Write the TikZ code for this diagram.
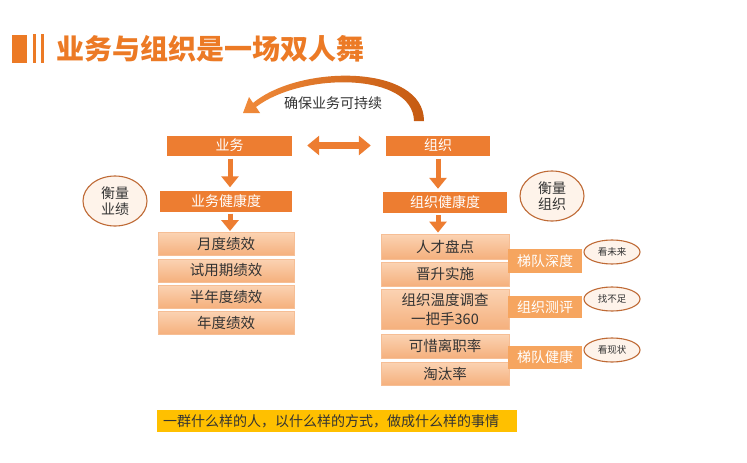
\documentclass[tikz,border=0pt]{standalone}
\usepackage{fontspec}
\setmainfont{Noto Sans CJK SC}
\usetikzlibrary{arrows.meta,shapes.geometric}
\definecolor{orangeD}{HTML}{ED7D31}
\definecolor{titleC}{HTML}{EC7A25}
\definecolor{arcL}{HTML}{F08A3A}
\definecolor{arcR}{HTML}{C55A11}
\definecolor{listTop}{HTML}{FBD3B3}
\definecolor{listBot}{HTML}{F5B07D}
\definecolor{listLine}{HTML}{F6BE95}
\definecolor{sideC}{HTML}{F6A55F}
\definecolor{ellFill}{HTML}{FEF3EA}
\definecolor{ellLine}{HTML}{BF6A35}
\definecolor{barC}{HTML}{FFC000}
\definecolor{txt}{HTML}{333333}
\tikzset{
  darkbox/.style={fill=orangeD, text=white, inner sep=0pt, font=\fontsize{14}{16}\selectfont},
  listbox/.style={top color=listTop, bottom color=listBot, draw=listLine, line width=0.8pt, text=txt, inner sep=0pt, font=\fontsize{14.5}{17}\selectfont},
  sidebox/.style={fill=sideC, text=white, inner sep=0pt, minimum width=74pt, font=\fontsize{14}{16}\selectfont},
  bigell/.style={ellipse, fill=ellFill, draw=ellLine, line width=1.1pt, inner sep=0pt, minimum width=64pt, minimum height=50pt, align=center, text=txt, font=\fontsize{14}{16}\selectfont},
  smallell/.style={ellipse, fill=ellFill, draw=ellLine, line width=1.1pt, inner sep=0pt, minimum width=56pt, minimum height=24pt, text=txt, font=\fontsize{9.5}{11}\selectfont},
  blockarr/.style={draw=orangeD, line width=5pt, -{Triangle[width=17pt,length=11pt]}},
  dblarr/.style={draw=orangeD, line width=7pt, {Triangle[width=19pt,length=12pt]}-{Triangle[width=19pt,length=12pt]}}
}
\begin{document}
\begin{tikzpicture}[x=1pt,y=-1pt]
\useasboundingbox (0,0) rectangle (747,463);
\fill[white] (0,0) rectangle (747,463);
% title
\fill[titleC] (12,35) rectangle (27,63);
\fill[titleC] (33,34) rectangle (35.5,63);
\fill[titleC] (41,34) rectangle (43.5,63);
\node[anchor=west, text=titleC, font=\fontsize{28}{31}\selectfont\bfseries, inner sep=0pt] (title) at (56,49) {业务与组织是一场双人舞};
% top row
\node[darkbox, minimum width=125pt, minimum height=20pt] (biz) at (229.5,145.5) {业务};
\node[darkbox, minimum width=104pt, minimum height=20pt] (org) at (438,145.5) {组织};
\draw[dblarr, shorten <=15pt, shorten >=15pt] (biz.east) -- (org.west);
% curved arrow (tapered block arrow)
\shade[left color=arcL, right color=arcR]
  (424,121) .. controls (424,64) and (300,64) .. (253,103)
  -- (249,97) -- (243,113) -- (260,113) -- (256,107)
  .. controls (302,72) and (413,72) .. (414,121) -- cycle;
\node[text=txt, font=\fontsize{14}{16}\selectfont] (keep) at (333,103) {确保业务可持续};
% health boxes
\node[darkbox, minimum width=132pt, minimum height=21pt] (bizh) at (226,201) {业务健康度};
\node[darkbox, minimum width=124pt, minimum height=21pt] (orgh) at (445,202.5) {组织健康度};
\coordinate (bx) at (230,0);
\coordinate (ox) at (438,0);
\draw[blockarr, shorten <=3pt, shorten >=3pt] (bx |- biz.south) -- (bx |- bizh.north);
\draw[blockarr, shorten <=3pt, shorten >=3pt] (ox |- org.south) -- (ox |- orgh.north);
% left list
\node[listbox, minimum width=136pt, minimum height=23pt] (l1) at (226,244) {月度绩效};
\node[listbox, minimum width=136pt, minimum height=23pt] (l2) at (226,270.5) {试用期绩效};
\node[listbox, minimum width=136pt, minimum height=23pt] (l3) at (226,296.5) {半年度绩效};
\node[listbox, minimum width=136pt, minimum height=23pt] (l4) at (226,322.5) {年度绩效};
\draw[blockarr, shorten <=2pt, shorten >=1pt] (bx |- bizh.south) -- (bx |- l1.north);
% right list
\node[listbox, minimum width=128pt, minimum height=25pt] (r1) at (445,246.5) {人才盘点};
\node[listbox, minimum width=128pt, minimum height=24pt] (r2) at (445,274) {晋升实施};
\node[listbox, minimum width=128pt, minimum height=40pt, align=center, font=\fontsize{14.5}{19}\selectfont] (r3) at (445,309) {组织温度调查\\一把手360};
\node[listbox, minimum width=128pt, minimum height=24pt] (r4) at (445,346) {可惜离职率};
\node[listbox, minimum width=128pt, minimum height=23pt] (r5) at (445,373.5) {淘汰率};
\draw[blockarr, shorten <=2pt, shorten >=1pt] (ox |- orgh.south) -- (ox |- r1.north);
% side labels
\node[sidebox, minimum height=24pt] (s1) at (545,261) {梯队深度};
\node[sidebox, minimum height=22pt] (s2) at (545,307) {组织测评};
\node[sidebox, minimum height=23pt] (s3) at (545,357) {梯队健康};
% ellipses
\node[bigell] (e1) at (115,201) {衡量\\业绩};
\node[bigell] (e2) at (552,196) {衡量\\组织};
\node[smallell] (e3) at (612,252) {看未来};
\node[smallell] (e4) at (612,299) {找不足};
\node[smallell] (e5) at (612,350) {看现状};
% bottom bar
\node[fill=barC, minimum width=360pt, minimum height=22pt, inner sep=0pt] (bar) at (337,421) {};
\node[anchor=west, inner sep=0pt, text=txt, font=\fontsize{14}{16}\selectfont] (bartext) at (163,421) {一群什么样的人，以什么样的方式，做成什么样的事情};
\end{tikzpicture}
\end{document}
